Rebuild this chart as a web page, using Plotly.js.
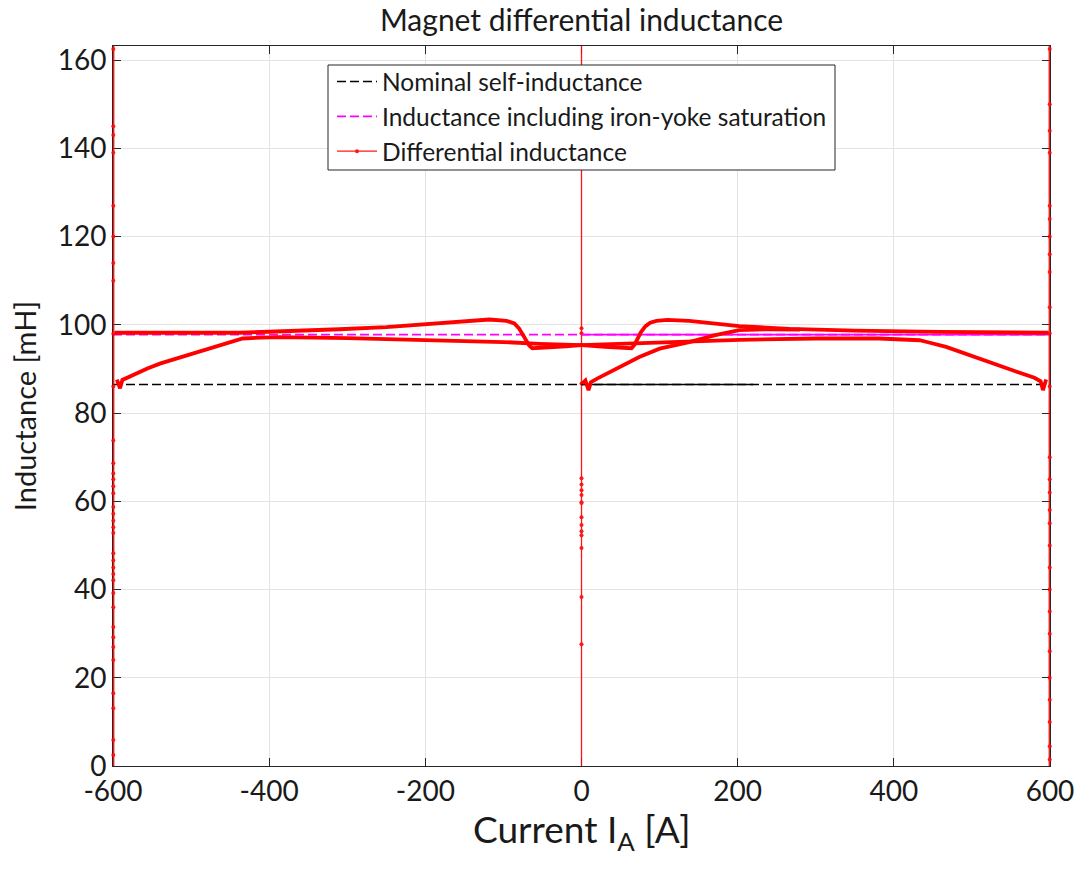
<!DOCTYPE html>
<html><head><meta charset="utf-8">
<script src="https://cdn.plot.ly/plotly-3.0.1.min.js"></script>
<style>html,body{margin:0;padding:0;background:#fff}</style>
</head><body>
<div id="chart" style="width:1079px;height:875px"></div>
<script>
// ---- data ----
const currentLimits = [-600, 600];
const nominalL = 86.5;
const saturationL = 97.8;
const solidOverlayBlack = [0, 220];
const solidOverlayMagenta = [0, 600];

// initial magnetisation branch (0 -> +)
const virginI = [1, 5, 9, 12, 20, 40, 74, 100, 138, 170, 202, 240, 280];
const virginL = [86.7, 87.4, 85.2, 87.0, 87.8, 89.6, 92.7, 94.6, 96.1, 97.6, 98.8, 99.0, 98.9];

// ascending branch (-600 -> +600)
const ascI = [-595, -591, -588, -580, -570, -556, -540, -513, -490, -471, -450, -434, -410, -387, -300, -200, -100, -54, 0, 30, 55, 64, 68, 72, 76, 82, 88, 96, 110, 138, 170, 202, 266, 350, 458, 550, 598];
const ascL = [87.6, 85.6, 87.5, 88.2, 89.0, 90.1, 91.2, 92.6, 93.9, 94.9, 96.0, 96.9, 97.1, 97.2, 97.0, 96.6, 96.1, 95.7, 95.4, 95.0, 94.8, 94.7, 95.5, 96.8, 98.3, 99.7, 100.5, 100.9, 101.1, 100.9, 100.3, 99.7, 99.1, 98.7, 98.4, 98.3, 98.2];

// descending branch (+600 -> -600)
const descI = [595, 591, 588, 580, 552, 509, 467, 445, 433, 381, 300, 202, 100, 54, 0, -20, -41, -55, -63, -67, -71, -75, -80, -86, -96, -118, -150, -199, -250, -310, -380, -438, -520, -598];
const descL = [87.6, 85.2, 87.2, 88.0, 89.7, 92.3, 95.0, 96.0, 96.5, 96.9, 96.9, 96.6, 96.1, 95.7, 95.4, 95.1, 94.8, 94.7, 94.7, 95.3, 96.6, 97.8, 99.2, 100.3, 100.9, 101.2, 100.8, 100.0, 99.5, 99.0, 98.6, 98.2, 98.2, 98.2];

// reversal spikes (values at the turning points)
const spikeLeftI = -599.6;
const spikeLeftY = [-20, 2.5, 5.9, 13.1, 16.5, 24.0, 27.0, 29.2, 31.5, 36.0, 39.2, 42.1, 43.5, 45.0, 46.6, 48.2, 52.8, 54.1, 55.6, 57.2, 58.7, 61.8, 63.4, 65.0, 66.3, 68.6, 73.8, 86.0, 98.0, 110.0, 114.0, 120.0, 127.0, 139.0, 143.0, 145.0, 162.5, 300];
const spikeCenterI = 0;
const spikeCenterY = [-20, 27.6, 38.3, 49.4, 52.3, 53.2, 54.6, 56.4, 59.6, 59.8, 61.4, 62.5, 63.8, 65.2, 86.7, 95.4, 98.1, 99.2, 300];
const spikeRightI = 599.6;
const spikeRightY = [-20, 1.5, 4.5, 10.0, 15.0, 20.0, 26.0, 30.0, 35.0, 40.0, 45.0, 50.0, 55.0, 58.0, 62.0, 65.0, 70.0, 86.0, 98.1, 104.0, 112.0, 116.0, 120.0, 124.0, 127.0, 139.0, 144.0, 150.0, 162.5, 300];

const xTicks = [-600, -400, -200, 0, 200, 400, 600];
const yTicks = [0, 20, 40, 60, 80, 100, 120, 140, 160];
const yMax = 163.2;

// ---- traces ----
const RED = '#ff0000';
const FONT = 'Lato, "Open Sans", sans-serif';
const TXT = '#1a1a1a';
const branch = (x, y) => ({x, y, type: 'scatter', mode: 'lines', showlegend: false,
  line: {color: RED, width: 3.8}, hoverinfo: 'skip'});
const spike = (xc, ys, w, legend) => ({x: ys.map(() => xc), y: ys, type: 'scatter', mode: 'lines+markers',
  name: 'Differential inductance', showlegend: legend, cliponaxis: false,
  line: {color: RED, width: w}, marker: {color: RED, size: 4}, opacity: 0.9});

const traces = [
  {x: currentLimits, y: currentLimits.map(() => nominalL), type: 'scatter', mode: 'lines',
   name: 'Nominal self-inductance', line: {color: '#000000', width: 1.5, dash: '9px,4px'}},
  {x: currentLimits, y: currentLimits.map(() => saturationL), type: 'scatter', mode: 'lines',
   name: 'Inductance including iron-yoke saturation', line: {color: '#ff00ff', width: 1.8, dash: '9px,4px'}},
  spike(spikeCenterI, spikeCenterY, 1.3, true),
  {x: solidOverlayBlack, y: solidOverlayBlack.map(() => nominalL), type: 'scatter', mode: 'lines',
   showlegend: false, line: {color: '#000000', width: 1.5}},
  {x: solidOverlayMagenta, y: solidOverlayMagenta.map(() => saturationL), type: 'scatter', mode: 'lines',
   showlegend: false, line: {color: '#ff00ff', width: 1.8}},
  branch(virginI, virginL),
  branch(ascI, ascL),
  branch(descI, descL),
  spike(spikeLeftI, spikeLeftY, 2.2, false),
  spike(spikeRightI, spikeRightY, 2.2, false)
];

const axisCommon = {
  showline: true, linecolor: '#262626', linewidth: 1, mirror: 'ticks',
  ticks: 'inside', ticklen: 8, tickcolor: '#262626', tickwidth: 1,
  showgrid: true, gridcolor: '#e3e3e3', gridwidth: 1, zeroline: false, layer: 'below traces',
  tickfont: {family: FONT, size: 28, color: TXT}
};

const layout = {
  width: 1079, height: 875,
  margin: {l: 113, r: 29, t: 46, b: 109},
  paper_bgcolor: '#ffffff', plot_bgcolor: '#ffffff',
  font: {family: FONT, color: TXT},
  title: {text: 'Magnet differential inductance', font: {family: FONT, size: 30, color: TXT},
          xref: 'paper', x: 0.5, xanchor: 'center', yref: 'container', y: 1 - 20 / 875, yanchor: 'middle'},
  xaxis: Object.assign({}, axisCommon, {
    range: currentLimits, tickvals: xTicks, ticktext: xTicks.map(String)
  }),
  yaxis: Object.assign({}, axisCommon, {
    range: [0, yMax], tickvals: yTicks, ticktext: yTicks.map(String),
    title: {text: 'Inductance [mH]', font: {family: FONT, size: 29, color: TXT}, standoff: 12}
  }),
  annotations: [
    {text: 'Current I<sub>A</sub> [A]', xref: 'paper', yref: 'paper', x: 0.5, y: (766 - 832) / 720,
     xanchor: 'center', yanchor: 'middle', showarrow: false, borderpad: 0,
     font: {family: FONT, size: 37, color: TXT}}
  ],
  shapes: [
    {type: 'rect', xref: 'paper', yref: 'paper', x0: (328 - 113) / 937, x1: (835 - 113) / 937,
     y0: (766 - 170) / 720, y1: (766 - 65) / 720, fillcolor: '#ffffff', line: {color: '#262626', width: 1}, layer: 'above'}
  ],
  legend: {x: (332 - 113) / 937, y: (766 - 59) / 720, xanchor: 'left', yanchor: 'top',
           bgcolor: 'rgba(0,0,0,0)', borderwidth: 0,
           font: {family: FONT, size: 24.5, color: TXT}, itemwidth: 40, tracegroupgap: 0},
  showlegend: true
};

Plotly.newPlot('chart', traces, layout, {displayModeBar: false, staticPlot: true});
</script>
</body></html>
